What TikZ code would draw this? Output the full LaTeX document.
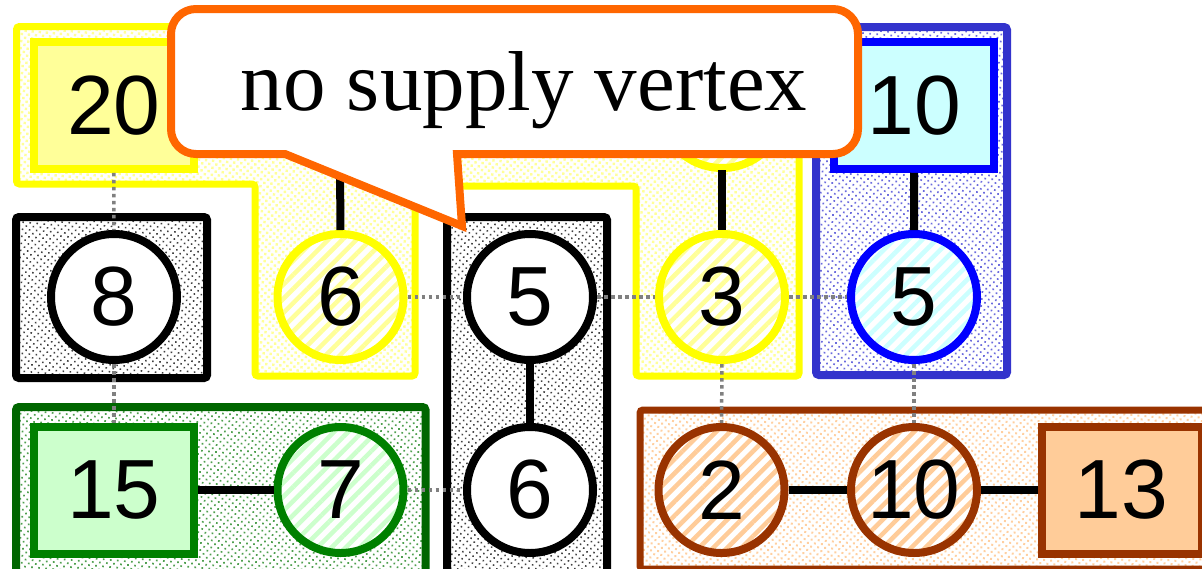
\documentclass[tikz,border=0pt]{standalone}
\usepackage{fontspec}
\usetikzlibrary{patterns.meta}
\newfontfamily\numfont{Liberation Sans}
\newfontfamily\callfont{Liberation Serif}
\definecolor{ylw}{HTML}{FFFF00}
\definecolor{ylwlt}{HTML}{FFFF99}
\definecolor{ylwdot}{HTML}{FFFF99}
\definecolor{bluereg}{HTML}{3333CC}
\definecolor{bluedot}{HTML}{6B6BDD}
\definecolor{bluelt}{HTML}{CCFFFF}
\definecolor{greenreg}{HTML}{006600}
\definecolor{greenv}{HTML}{008000}
\definecolor{greendot}{HTML}{4F9F4F}
\definecolor{greenlt}{HTML}{CCFFCC}
\definecolor{brn}{HTML}{993300}
\definecolor{brnlt}{HTML}{FFCC99}
\definecolor{brndot}{HTML}{FFCFA0}
\definecolor{blkdot}{HTML}{404040}
\definecolor{linkgray}{HTML}{808080}
\definecolor{callorange}{HTML}{FF6600}
\begin{document}
\begin{tikzpicture}[x=1pt,y=-1pt,
  region/.style={line width=8pt, rounded corners=3pt},
  dotfill/.style 2 args={pattern={Dots[angle=40,distance=5pt,radius=#2]}, pattern color=#1},
  vtx/.style={circle, minimum size=126pt, inner sep=0pt, line width=8pt,
    font=\numfont\fontsize{84}{84}\selectfont},
  wvtx/.style={vtx, draw=black, fill=white},
  hvtx/.style 2 args={vtx, draw=#1, preaction={fill=white},
    pattern={Lines[angle=45,distance=10pt,line width=4.5pt]}, pattern color=#2},
  sbox/.style 2 args={rectangle, minimum width=160pt, minimum height=127pt,
    inner sep=0pt, line width=8pt, draw=#1, fill=#2,
    font=\numfont\fontsize{84}{84}\selectfont},
  edgeline/.style={line width=8pt, draw=black},
  link/.style={draw=linkgray, line width=3.5pt, dash pattern=on 3.5pt off 3.5pt},
  callout/.style={draw=callorange, fill=white, line width=8pt, line join=miter}
]
\useasboundingbox (0,0) rectangle (1202,568);
\clip (0,0) rectangle (1202,568);

% regions
\draw[region, line width=7pt, draw=ylw, dotfill={ylwdot}{1.7pt}]
  (16.5,26.5) -- (799,26.5) -- (799,376) -- (636,376) -- (636,186)
  -- (415,186) -- (415,376) -- (255,376) -- (255,184) -- (16.5,184) -- cycle;
\draw[region, draw=black, dotfill={blkdot}{1.1pt}] (16,217) rectangle (207,378);
\draw[region, draw=black, dotfill={blkdot}{1.1pt}] (447,217) rectangle (607,590);
\draw[region, draw=bluereg, dotfill={bluedot}{1.2pt}] (816,27) rectangle (1007,375);
\draw[region, draw=greenreg, dotfill={greendot}{1.2pt}] (16,407) rectangle (425.5,590);
\draw[region, line width=7pt, draw=brn, dotfill={brndot}{1.4pt}] (640,410) rectangle (1215,569);

% nodes
\node[sbox={ylw}{ylwlt}] (b20) at (113.75,105.25) {20};
\node[sbox={blue}{bluelt}] (b10) at (914.25,105.25) {10};
\node[sbox={greenv}{greenlt}] (b15) at (114,490) {15};
\node[sbox={brn}{brnlt}] (b13) at (1121.5,490) {13};

\coordinate (h6) at (340,105);
\node[hvtx={ylw}{ylwlt}] (h3) at (722,105) {};

\node[wvtx] (c8) at (114,297) {8};
\node[hvtx={ylw}{ylwlt}] (c6) at (340.5,297) {6};
\node[wvtx] (c5) at (530,297) {5};
\node[hvtx={ylw}{ylwlt}] (c3) at (722,297) {3};
\node[hvtx={blue}{bluelt}] (c5b) at (914,297) {5};
\node[hvtx={greenv}{greenlt}] (c7) at (340.5,490) {7};
\node[wvtx] (c6b) at (530,490) {6};
\node[hvtx={brn}{brnlt}] (c2) at (721.5,490) {2};
\node[hvtx={brn}{brnlt}] (c10) at (914,490) {10};

% dotted links between regions
\draw[link] (b20) -- (c8);
\draw[link] (c8) -- (b15);
\draw[link] (c6) -- (c5);
\draw[link] (c5) -- (c3);
\draw[link] (c3) -- (c5b);
\draw[link] (c3) -- (c2);
\draw[link] (c5b) -- (c10);
\draw[link] (c7) -- (c6b);

% solid edges
\draw[edgeline] (c5) -- (c6b);
\draw[edgeline] (b15) -- (c7);
\draw[edgeline] (c2) -- (c10);
\draw[edgeline] (c10) -- (b13);
\draw[edgeline] (b10) -- (c5b);
\draw[edgeline] (c3) -- (h3);
\draw[edgeline] (c6) -- (h6);

% callout
\draw[callout] (462,226) -- (285,154) -- (196,154)
  arc[start angle=90, end angle=180, radius=25] -- (171,34)
  arc[start angle=180, end angle=270, radius=25] -- (833,9)
  arc[start angle=270, end angle=360, radius=25] -- (858,129)
  arc[start angle=0, end angle=90, radius=25] -- (457,154) -- cycle;
\node[anchor=base, inner sep=0pt, font=\callfont\fontsize{85}{85}\selectfont]
  (ctext) at (524,110) {no supply vertex};
\end{tikzpicture}
\end{document}
